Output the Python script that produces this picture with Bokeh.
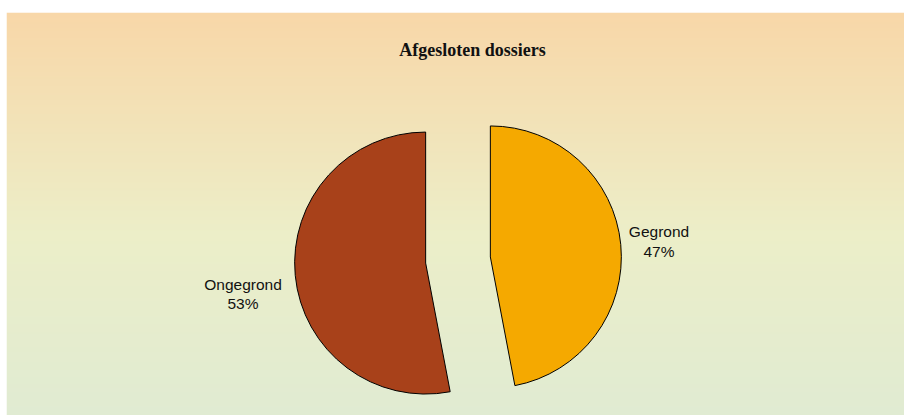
import numpy as np
from bokeh.plotting import figure
from bokeh.models import Range1d
from bokeh.core.properties import value
from bokeh.embed import file_html
from bokeh.resources import INLINE

# ---- data ----
categories = ["Gegrond", "Ongegrond"]
percents = [47, 53]
colors = ["#F5A900", "#A8411A"]
title_text = "Afgesloten dossiers"

# ---- layout ----
W, H = 904, 415
TOP_PAD, LEFT_PAD = 12, 6
PW, PH = W - LEFT_PAD, H - TOP_PAD   # plot area size (data units == px)
cx, cy = 451.5, 155.5     # pie centre
radius = 131
explode = 32.5
# label offsets (relative to pie centre): name baseline, percent baseline
label_pos = {"Gegrond": (201, 29, 9), "Ongegrond": (-215, -24, -43)}

p = figure(width=W, height=H, output_backend="svg", toolbar_location=None,
           x_range=Range1d(0, PW), y_range=Range1d(0, PH),
           min_border=0, min_border_top=TOP_PAD, min_border_left=LEFT_PAD,
           min_border_right=0, min_border_bottom=0)
p.axis.visible = False
p.grid.visible = False
p.outline_line_color = None
p.border_fill_color = "white"
p.background_fill_color = None

# background gradient (top peach -> middle pale yellow-green -> bottom light green)
stops_t = [0.0, 0.55, 1.0]
stops_c = [(248, 215, 168), (236, 238, 200), (224, 235, 210)]
t = np.linspace(0, 1, PH)
rows = np.zeros((PH, 2), dtype=np.uint32)
view = rows.view(dtype=np.uint8).reshape((PH, 2, 4))
for k in range(3):
    ch = np.interp(t, stops_t, [c[k] for c in stops_c])
    view[:, :, k] = np.round(ch)[::-1, None].astype(np.uint8)
view[:, :, 3] = 255
p.image_rgba(image=[rows], x=0, y=0, dw=PW, dh=PH)

# pie slices: first slice starts at 12 o'clock going clockwise
fr = np.array(percents, dtype=float) / sum(percents)
ends = np.pi / 2 - 2 * np.pi * np.cumsum(fr)
starts = np.concatenate([[np.pi / 2], ends[:-1]])
mids = (starts + ends) / 2
xs = cx + explode * np.cos(mids)
ys = cy + explode * np.sin(mids)

p.wedge(x=xs, y=ys, radius=radius, start_angle=starts, end_angle=ends,
        direction="clock", fill_color=colors, line_color="black", line_width=1)

for cat, pc in zip(categories, percents):
    dx, dy1, dy2 = label_pos[cat]
    p.text(x=[cx + dx], y=[cy + dy1], text=[cat], text_align="center",
           text_baseline="alphabetic", text_font=value("Liberation Sans"),
           text_font_size="15.5px", text_color="#111111")
    p.text(x=[cx + dx], y=[cy + dy2], text=[f"{pc}%"], text_align="center",
           text_baseline="alphabetic", text_font=value("Liberation Sans"),
           text_font_size="15.5px", text_color="#111111")

p.text(x=[466], y=[PH - 37], text=[title_text], text_align="center",
       text_baseline="alphabetic", text_font=value("Liberation Serif"),
       text_font_style="bold", text_font_size="18px", text_color="#111111")

open("out.html", "w").write(file_html(p, INLINE))
